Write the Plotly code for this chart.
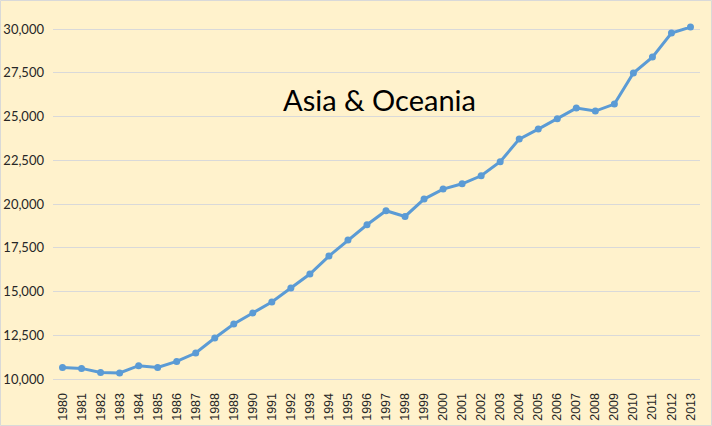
import plotly.graph_objects as go

years = list(range(1980, 2014))
values = [10663, 10606, 10377, 10343, 10760, 10663, 11006, 11486, 12343, 13143,
          13771, 14400, 15200, 16000, 17028, 17943, 18817, 19617, 19291, 20286,
          20857, 21160, 21617, 22417, 23714, 24286, 24874, 25486, 25314, 25714,
          27486, 28400, 29771, 30114]
ytick_vals = [10000, 12500, 15000, 17500, 20000, 22500, 25000, 27500, 30000]
ytick_text = ["10,000", "12,500", "15,000", "17,500", "20,000", "22,500", "25,000", "27,500", "30,000"]
title_text = "Asia & Oceania"

bg = "#FFF2CC"
grid = "#D9D9D9"

fig = go.Figure()
fig.add_trace(go.Scatter(
    x=years, y=values, mode="lines+markers",
    line=dict(color="#5B9BD5", width=3),
    marker=dict(color="#5B9BD5", size=7),
    cliponaxis=False, showlegend=False,
))

fig.update_layout(
    width=712, height=426,
    margin=dict(l=53, r=12, t=27, b=47),
    paper_bgcolor=bg, plot_bgcolor=bg,
    font=dict(family="Lato", color="#404040"),
    xaxis=dict(
        range=[1979.5, 2013.5], tickmode="array", tickvals=years,
        ticktext=[str(y) for y in years], tickangle=-90,
        tickfont=dict(family="Liberation Sans, Arial", size=12.5, color="#262626"),
        showgrid=False, zeroline=False, automargin=False,
        showline=True, linecolor=grid, linewidth=1,
        ticks="", ticklabelstandoff=8,
    ),
    yaxis=dict(
        range=[10000, 30120], tickmode="array", tickvals=ytick_vals, ticktext=ytick_text,
        tickfont=dict(family="Lato", size=13, color="#262626"),
        showgrid=True, gridcolor=grid, gridwidth=1, zeroline=False, automargin=False,
        showline=False, ticks="", ticklabelstandoff=8,
    ),
    annotations=[dict(
        text=title_text, xref="paper", yref="paper", x=0.505, y=0.795,
        showarrow=False, font=dict(family="Lato", size=29, color="#000000"),
        xanchor="center", yanchor="middle",
    )],
    shapes=[dict(
        type="rect", xref="paper", yref="paper",
        x0=-0.0811, x1=1.0178, y0=-0.1321, y1=1.0753,
        line=dict(color=grid, width=1), layer="below",
    )],
)

fig.write_html(
    "out.html",
    config={"displayModeBar": False},
    post_script="document.body.style.margin='0px';document.body.style.overflow='hidden';",
)
